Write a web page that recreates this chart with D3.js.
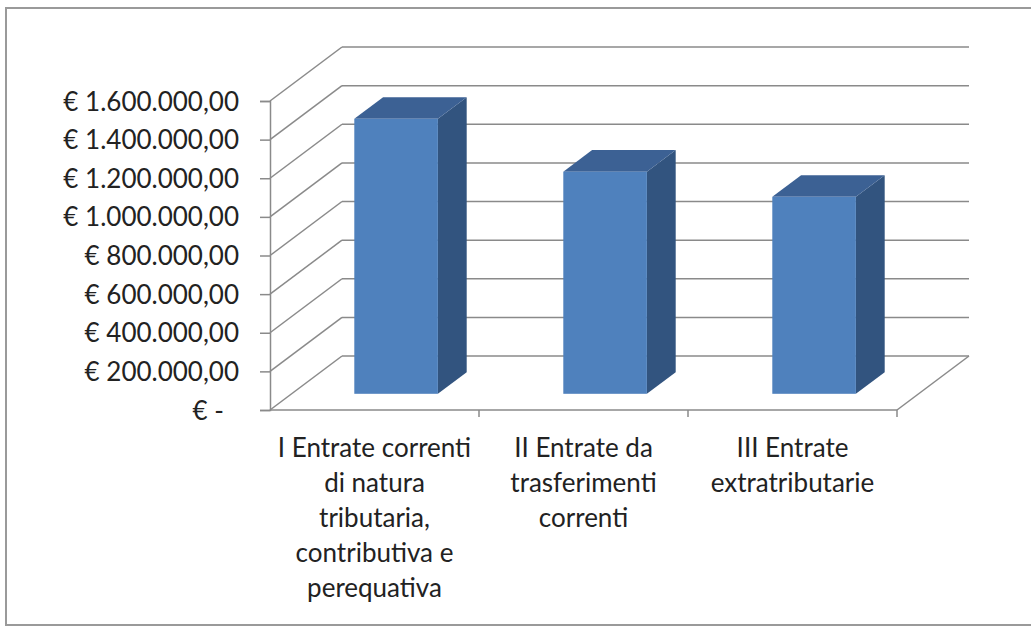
<!DOCTYPE html>
<html>
<head>
<meta charset="utf-8">
<script src="https://cdn.jsdelivr.net/npm/d3@7"></script>
<style>
  body { margin: 0; background: #fff; }
  text { font-family: Lato, "Open Sans", sans-serif; fill: #222; }
</style>
</head>
<body>
<svg id="chart" width="1031" height="626"></svg>
<script>
// data
var categories = [
  "I Entrate correnti\ndi natura\ntributaria,\ncontributiva e\nperequativa",
  "II Entrate da\ntrasferimenti\ncorrenti",
  "III Entrate\nextratributarie"
];
var values = [1424000, 1150000, 1020000];
var yTicks = [0, 200000, 400000, 600000, 800000, 1000000, 1200000, 1400000, 1600000];

// layout
var x0 = 270, x1 = 897;
var yBottom = 410, yTop = 101;
var depthX = 72, depthY = -54;      // back wall offset
var barFront = 0.3, barBack = 0.7;  // bar position in depth
var grid_color = "#8a8a8a";
var font_size = "26px";

var svg = d3.select("#chart");

// outer frame
svg.append("rect")
  .attr("x", 6).attr("y", 8)
  .attr("width", 1040).attr("height", 617)
  .style("fill", "none")
  .style("stroke", "#9a9a9a")
  .style("stroke-width", 2);

var x = d3.scaleBand().domain(categories).range([x0, x1]).padding(0);
var y = d3.scaleLinear().domain([0, 1600000]).range([yBottom, yTop]);

var it = d3.formatLocale({decimal: ",", thousands: ".", grouping: [3], currency: ["€", ""]});
var fmt = it.format(",.2f");

// back wall gridlines + left wall diagonals
var grid = svg.append("g");
yTicks.forEach(function(t){
  var yy = y(t);
  if (t > 0) {
    grid.append("line")
      .attr("x1", x0 + depthX).attr("y1", yy + depthY)
      .attr("x2", x1 + depthX).attr("y2", yy + depthY);
  }
  grid.append("line")
    .attr("x1", x0).attr("y1", yy)
    .attr("x2", x0 + depthX).attr("y2", yy + depthY);
});
// floor
grid.append("line")
  .attr("x1", x0 + depthX).attr("y1", y(0) + depthY)
  .attr("x2", x1 + depthX).attr("y2", y(0) + depthY);
grid.append("line")
  .attr("x1", x1).attr("y1", y(0))
  .attr("x2", x1 + depthX).attr("y2", y(0) + depthY);
grid.selectAll("line")
  .style("stroke", grid_color)
  .style("stroke-width", 1.5);

// bars
var barW = x.bandwidth() / 2.5;
var fx = depthX * barFront, fy = depthY * barFront;
var bdx = depthX * (barBack - barFront), bdy = depthY * (barBack - barFront);

var bars = svg.append("g").selectAll("g")
  .data(categories.map(function(c, i){ return {cat: c, val: values[i]}; }))
  .join("g");

bars.each(function(d){
  var g = d3.select(this);
  var left = x(d.cat) + (x.bandwidth() - barW) / 2 + fx;
  var right = left + barW;
  var top = y(d.val) + fy;
  var bottom = y(0) + fy;
  // side
  g.append("path")
    .attr("d", "M" + right + "," + top + "L" + (right + bdx) + "," + (top + bdy) +
      "L" + (right + bdx) + "," + (bottom + bdy) + "L" + right + "," + bottom + "Z")
    .style("fill", "#32547f");
  // top
  g.append("path")
    .attr("d", "M" + left + "," + top + "L" + (left + bdx) + "," + (top + bdy) +
      "L" + (right + bdx) + "," + (top + bdy) + "L" + right + "," + top + "Z")
    .style("fill", "#3c6194");
  // front
  g.append("rect")
    .attr("x", left).attr("y", top)
    .attr("width", barW).attr("height", bottom - top)
    .style("fill", "#4f81bd");
});

// y axis
var yAxis = svg.append("g")
  .attr("transform", "translate(" + x0 + ",0)")
  .call(d3.axisLeft(y).tickValues(yTicks).tickSize(10).tickPadding(21)
    .tickFormat(function(d){ return d === 0 ? "€ -" : "€ " + fmt(d); }));
yAxis.select(".domain").style("stroke", grid_color).style("stroke-width", 1.5);
yAxis.selectAll(".tick line").style("stroke", grid_color).style("stroke-width", 1.5);
yAxis.selectAll(".tick text")
  .style("font-size", font_size)
  .style("font-family", "Lato, 'Open Sans', sans-serif")
  .style("fill", "#222")
  .attr("dx", function(d){ return d === 0 ? -15 : 0; })
  .attr("dy", "0.35em");

// x axis (floor front edge + category boundary ticks)
var xa = svg.append("g");
xa.append("line")
  .attr("x1", x0).attr("y1", y(0)).attr("x2", x1).attr("y2", y(0));
categories.forEach(function(c){
  xa.append("line")
    .attr("x1", x(c) + x.bandwidth()).attr("y1", y(0))
    .attr("x2", x(c) + x.bandwidth()).attr("y2", y(0) + 7);
});
xa.selectAll("line").style("stroke", grid_color).style("stroke-width", 1.5);

var labels = xa.selectAll("text")
  .data(categories)
  .join("text")
  .attr("text-anchor", "middle")
  .style("font-size", font_size)
  .attr("transform", function(d){ return "translate(" + (x(d) + x.bandwidth() / 2) + ",457)"; });
labels.selectAll("tspan")
  .data(function(d){ return d.split("\n"); })
  .join("tspan")
  .attr("x", 0)
  .attr("dy", function(d, i){ return i === 0 ? 0 : 35; })
  .text(function(d){ return d; });
</script>
</body>
</html>
